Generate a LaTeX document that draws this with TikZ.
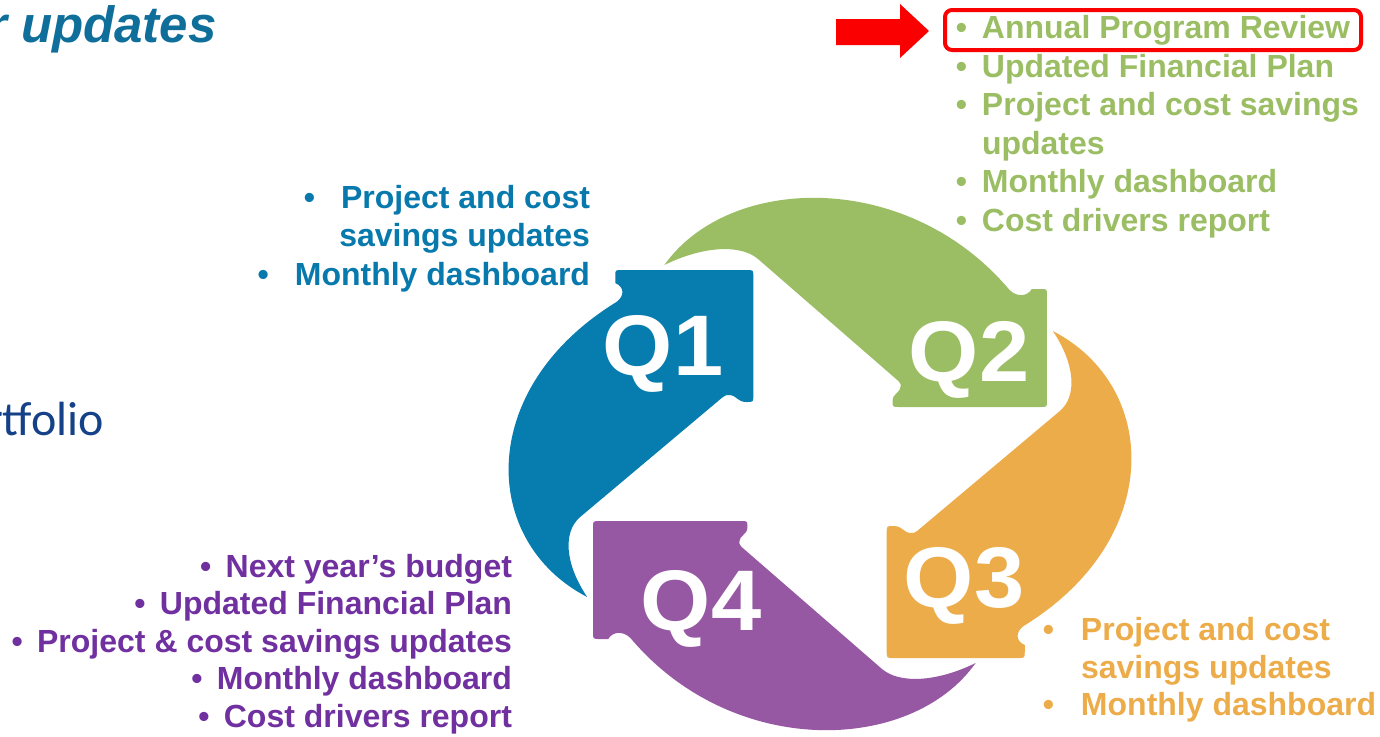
\documentclass[tikz,border=0pt]{standalone}
\usepackage{fontspec}
\setmainfont{Liberation Sans}
\newfontfamily\calibfont{Carlito}
\definecolor{qblue}{RGB}{7,124,174}
\definecolor{qgreen}{RGB}{155,190,101}
\definecolor{qorange}{RGB}{236,172,74}
\definecolor{qpurple}{RGB}{150,88,162}
\definecolor{tblue}{RGB}{8,121,172}
\definecolor{tgreen}{RGB}{155,190,100}
\definecolor{torange}{RGB}{237,172,74}
\definecolor{tpurple}{RGB}{112,48,160}
\definecolor{titleblue}{RGB}{16,111,154}
\definecolor{navy}{RGB}{20,65,135}
\definecolor{hired}{RGB}{250,0,0}
\tikzset{
  lst/.style={inner sep=0pt, outer sep=0pt, font=\fontsize{32}{38}\selectfont\bfseries},
  qlab/.style={inner sep=0pt, outer sep=0pt, text=white, font=\fontsize{86}{86}\selectfont\bfseries, anchor=base},
}
\def\qshape{(-199,-133) .. controls (-290,-78) and (-295,75) .. (-174,162)
  .. controls (-167,168) and (-167,177) .. (-175,181) -- (-175,188)
  .. controls (-175,194) .. (-169,194) -- (-63,194)
  .. controls (-57,194) .. (-57,188) -- (-57,68)
  .. controls (-57,62) .. (-63,62)
  .. controls (-71,62) and (-71,69) .. (-78,69)
  .. controls (-80,69) .. (-83,67) -- (-205,-53)
  .. controls (-220,-68) and (-218,-100) .. (-199,-133) -- cycle}
\begin{document}
\begin{tikzpicture}[x=1pt, y=-1pt]
\useasboundingbox (0,0) rectangle (1380,736);

% cycle of four arrows
\begin{scope}[shift={(820,464)}, xscale=1.17, yscale=-1]
  \fill[qblue] \qshape;
  \begin{scope}[rotate=90] \fill[qgreen] \qshape; \end{scope}
  \begin{scope}[rotate=180] \fill[qorange] \qshape; \end{scope}
  \begin{scope}[rotate=270] \fill[qpurple] \qshape; \end{scope}
\end{scope}

\node[qlab] (q1) at (663,375) {\scalebox{1.05}[1]{Q1}};
\node[qlab] (q2) at (969,381) {\scalebox{1.05}[1]{Q2}};
\node[qlab] (q3) at (964,607) {\scalebox{1.05}[1]{Q3}};
\node[qlab] (q4) at (701,630) {\scalebox{1.05}[1]{Q4}};

% title fragments
\node[inner sep=0pt, anchor=base west, text=titleblue,
      font=\fontsize{51}{51}\selectfont\bfseries\itshape] (title) at (21,42) {\llap{r }updates};
\node[inner sep=0pt, anchor=base west, text=navy,
      font=\calibfont\fontsize{48}{48}\selectfont] (port) at (-14,435) {rtfolio};

% Q1 list (blue)
\node[lst, text=tblue, anchor=base east] (b1) at (590,208) {•\hspace{26pt}Project and cost};
\node[lst, text=tblue, anchor=base east] (b2) at (590,246.5) {savings updates};
\node[lst, text=tblue, anchor=base east] (b3) at (590,285) {•\hspace{26pt}Monthly dashboard};

% Q2 list (green)
\node[lst, text=tgreen, anchor=base west] (g1) at (982,38.5) {\llap{•\hspace{15pt}}Annual Program Review};
\node[lst, text=tgreen, anchor=base west] (g2) at (982,77) {\llap{•\hspace{15pt}}Updated Financial Plan};
\node[lst, text=tgreen, anchor=base west] (g3) at (982,115.5) {\llap{•\hspace{15pt}}Project and cost savings};
\node[lst, text=tgreen, anchor=base west] (g4) at (982,154) {updates};
\node[lst, text=tgreen, anchor=base west] (g5) at (982,192.5) {\llap{•\hspace{15pt}}Monthly dashboard};
\node[lst, text=tgreen, anchor=base west] (g6) at (982,231) {\llap{•\hspace{15pt}}Cost drivers report};

% highlight
\draw[hired, line width=4pt, rounded corners=7pt] (945,10) rectangle (1361,50);
\fill[hired] (836,19) -- (900,19) -- (900,4) -- (929,31) -- (900,58) -- (900,45) -- (836,45) -- cycle;

% Q3 list (orange)
\node[lst, text=torange, anchor=base west] (o1) at (1081,640.5) {\llap{•\hspace{27pt}}Project and cost};
\node[lst, text=torange, anchor=base west] (o2) at (1081,678) {savings updates};
\node[lst, text=torange, anchor=base west] (o3) at (1081,715) {\llap{•\hspace{27pt}}Monthly dashboard};

% Q4 list (purple)
\node[lst, text=tpurple, anchor=base east] (p1) at (512,577) {•\hspace{14.4pt}Next year’s budget};
\node[lst, text=tpurple, anchor=base east] (p2) at (512,614.5) {•\hspace{14.4pt}Updated Financial Plan};
\node[lst, text=tpurple, anchor=base east] (p3) at (512,652) {•\hspace{14.4pt}Project \& cost savings updates};
\node[lst, text=tpurple, anchor=base east] (p4) at (512,689.5) {•\hspace{14.4pt}Monthly dashboard};
\node[lst, text=tpurple, anchor=base east] (p5) at (512,727) {•\hspace{14.4pt}Cost drivers report};
\end{tikzpicture}
\end{document}
